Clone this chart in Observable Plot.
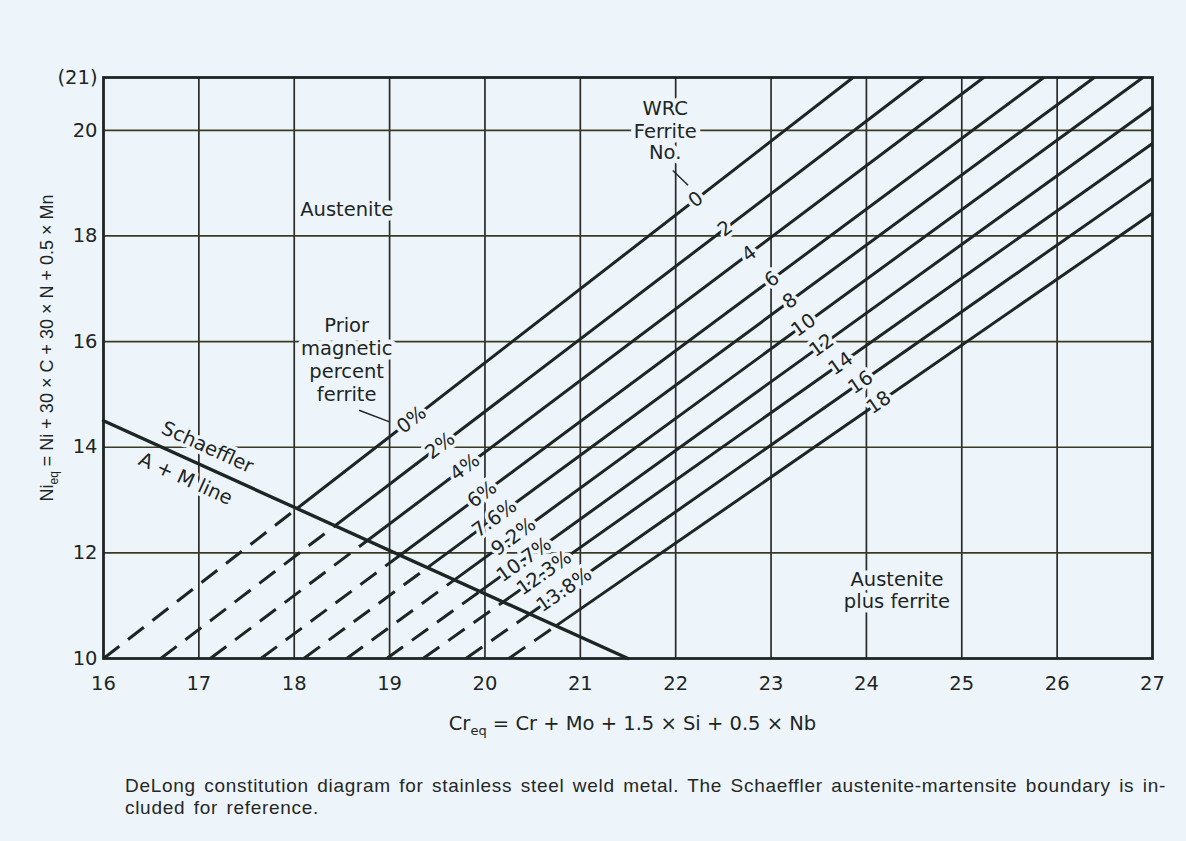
<!DOCTYPE html>
<html>
<head>
<meta charset="utf-8">
<script src="https://cdn.jsdelivr.net/npm/d3@7"></script>
<script src="https://cdn.jsdelivr.net/npm/@observablehq/plot@0.6"></script>
<style>
  html, body { margin: 0; padding: 0; background: #edf5fa; }
  #chart svg { display: block; }
  #caption {
    margin: 25px 0 0 125px;
    font-family: "Liberation Sans", sans-serif;
    font-size: 19px;
    line-height: 22px;
    letter-spacing: 0.7px;
    word-spacing: 2.5px;
    color: #262626;
    white-space: nowrap;
  }
</style>
</head>
<body>
<div id="chart"></div>
<div id="caption">DeLong constitution diagram for stainless steel weld metal. The Schaeffler austenite-martensite boundary is in-<br>cluded for reference.</div>
<script>
// ---- Data ----
const crTicks = [16, 17, 18, 19, 20, 21, 22, 23, 24, 25, 26, 27];
const niTicks = [10, 12, 14, 16, 18, 20, 21];
const niTickLabels = ["10", "12", "14", "16", "18", "20", "(21)"];
const crGrid = [17, 18, 19, 20, 21, 22, 23, 24, 25, 26];
const niGrid = [12, 14, 16, 18, 20];

// Iso-ferrite lines (WRC Ferrite Number / prior magnetic percent ferrite)
const ferriteNumbers = ["0", "2", "4", "6", "8", "10", "12", "14", "16", "18"];
const magneticPercent = ["0%", "2%", "4%", "6%", "7.6%", "9.2%", "10.7%", "12.3%", "13.8%", null];
const lineStartCr = [16.0, 16.6, 17.12, 17.65, 18.1, 18.55, 18.97, 19.35, 19.8, 20.25]; // at Ni_eq = 10
const lineStartNi = [10, 10, 10, 10, 10, 10, 10, 10, 10, 10];
const lineEndCr = [23.86, 24.6, 25.23, 25.86, 26.39, 26.9, 27, 27, 27, 27];
const lineEndNi = [21, 21, 21, 21, 21, 21, 20.44, 19.75, 19.09, 18.43];
const fnLabelCr = [22.21, 22.52, 22.77, 23.01, 23.2, 23.34, 23.53, 23.73, 23.94, 24.13];
const pctLabelCr = [19.23, 19.53, 19.79, 19.97, 20.1, 20.3, 20.41, 20.62, 20.83, null];

// Schaeffler A + M boundary
const schaefflerCr = [16, 21.5];
const schaefflerNi = [14.5, 10];

// Region labels
const regionText = ["Austenite", "Prior", "magnetic", "percent", "ferrite", "WRC", "Ferrite", "No.", "Austenite", "plus ferrite"];
const regionCr = [18.55, 18.55, 18.55, 18.55, 18.55, 21.89, 21.89, 21.89, 24.32, 24.32];
const regionNi = [18.49, 16.3, 15.87, 15.43, 14.99, 20.4, 19.98, 19.57, 11.5, 11.08];
const schaefflerLabels = ["Schaeffler", "A + M line"];
const schaefflerLabelCr = [17.09, 16.86];
const schaefflerLabelNi = [14.0, 13.4];
// Leader lines
const leaderCr1 = [18.68, 21.97];
const leaderNi1 = [14.7, 19.24];
const leaderCr2 = [19.0, 22.13];
const leaderNi2 = [14.48, 18.96];

// ---- Build ----
const bg = "#edf5fa";
const ink = "#1e2525";
const W = 1186, H = 750;
const mL = 103, mR = 34, mT = 77, mB = 92;
const kx = (W - mL - mR) / (27 - 16);
const ky = (H - mT - mB) / (21 - 10);

const sSlope = (schaefflerNi[1] - schaefflerNi[0]) / (schaefflerCr[1] - schaefflerCr[0]);
const lines = ferriteNumbers.map((fn, i) => {
  const x0 = lineStartCr[i], y0 = lineStartNi[i], x1 = lineEndCr[i], y1 = lineEndNi[i];
  const m = (y1 - y0) / (x1 - x0);
  // intersection with Schaeffler line
  const xi = (schaefflerNi[0] - sSlope * schaefflerCr[0] - y0 + m * x0) / (m - sSlope);
  const yi = y0 + m * (xi - x0);
  const rot = -Math.atan(m * ky / kx) * 180 / Math.PI;
  return {fn, pct: magneticPercent[i], x0, y0, x1, y1, xi, yi, m, rot,
          fx: fnLabelCr[i], fy: y0 + m * (fnLabelCr[i] - x0),
          px: pctLabelCr[i], py: pctLabelCr[i] == null ? null : y0 + m * (pctLabelCr[i] - x0)};
});
const pctLines = lines.filter(d => d.pct != null);
const sRot = -Math.atan(sSlope * ky / kx) * 180 / Math.PI;

const regions = regionText.map((t, i) => ({t, x: regionCr[i], y: regionNi[i]}));
const sLabels = schaefflerLabels.map((t, i) => ({t, x: schaefflerLabelCr[i], y: schaefflerLabelNi[i]}));
const leaders = leaderCr1.map((x, i) => ({x1: x, y1: leaderNi1[i], x2: leaderCr2[i], y2: leaderNi2[i]}));

const font = "DejaVu Sans";
const fs = 19.5;
const halo = {stroke: bg, strokeWidth: 7, paintOrder: "stroke", strokeLinejoin: "round"};

const plot = Plot.plot({
  width: W, height: H,
  marginLeft: mL, marginRight: mR, marginTop: mT, marginBottom: mB,
  x: {domain: [16, 27]},
  y: {domain: [10, 21]},
  style: {background: bg, fontFamily: font, fontSize: fs + "px", color: ink},
  marks: [
    Plot.ruleX(crGrid, {stroke: "#2a2a2a", strokeWidth: 1.7}),
    Plot.ruleY(niGrid, {stroke: "#3b3a22", strokeWidth: 1.7}),
    Plot.frame({stroke: ink, strokeWidth: 2.8}),
    // dashed parts below the Schaeffler line
    Plot.link(lines, {x1: "x0", y1: "y0", x2: "xi", y2: "yi", stroke: ink, strokeWidth: 3, strokeDasharray: "20,11"}),
    // solid parts above it
    Plot.link(lines, {x1: "xi", y1: "yi", x2: "x1", y2: "y1", stroke: ink, strokeWidth: 3}),
    Plot.line(schaefflerCr.map((x, i) => ({x, y: schaefflerNi[i]})), {x: "x", y: "y", stroke: ink, strokeWidth: 3.4}),
    Plot.link(leaders, {x1: "x1", y1: "y1", x2: "x2", y2: "y2", stroke: ink, strokeWidth: 1.4}),
    Plot.text(lines, {x: "fx", y: "fy", text: "fn", rotate: "rot", fill: ink, fontSize: fs, ...halo}),
    Plot.text(pctLines, {x: "px", y: "py", text: "pct", rotate: "rot", fill: ink, fontSize: fs, ...halo}),
    Plot.text(regions, {x: "x", y: "y", text: "t", fill: ink, fontSize: fs, ...halo, strokeWidth: 9}),
    Plot.text(sLabels, {x: "x", y: "y", text: "t", rotate: sRot, fill: ink, fontSize: fs, ...halo}),
    Plot.axisX({ticks: crTicks, tickSize: 0, tickPadding: 18, label: null, fontSize: fs, fill: ink}),
    Plot.axisY({ticks: niTicks, tickSize: 0, tickPadding: 6, label: null, fontSize: fs, fill: ink,
                tickFormat: d => niTickLabels[niTicks.indexOf(d)]})
  ]
});
document.getElementById("chart").appendChild(plot);

// Axis titles with subscripts
const svg = d3.select(plot);
const xl = svg.append("text")
  .attr("x", mL + (W - mL - mR) / 2 + 5).attr("y", 730)
  .attr("text-anchor", "middle")
  .attr("font-family", font).attr("font-size", fs).attr("fill", ink);
xl.append("tspan").text("Cr");
xl.append("tspan").attr("font-size", 13).attr("dy", 5).text("eq");
xl.append("tspan").attr("dy", -5).text(" = Cr + Mo + 1.5 × Si + 0.5 × Nb");

const yl = svg.append("text")
  .attr("transform", "translate(53,348) rotate(-90)")
  .attr("text-anchor", "middle")
  .attr("font-family", "Liberation Sans").attr("font-size", 18).attr("fill", ink);
yl.append("tspan").text("Ni");
yl.append("tspan").attr("font-size", 12).attr("dy", 5).text("eq");
yl.append("tspan").attr("dy", -5).text(" = Ni + 30 × C + 30 × N + 0.5 × Mn");
</script>
</body>
</html>
